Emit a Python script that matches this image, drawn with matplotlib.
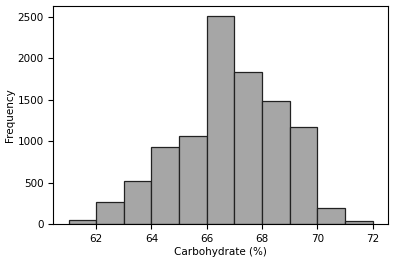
import numpy as np
import matplotlib
matplotlib.use('Agg')
import matplotlib.pyplot as plt

bin_edges = [61, 62, 63, 64, 65, 66, 67, 68, 69, 70, 71, 72]
counts = [48, 270, 520, 935, 1065, 2505, 1830, 1490, 1175, 194, 36]

fig = plt.figure(figsize=(3.95, 2.62), dpi=100)
ax = fig.add_axes([0.135, 0.145, 0.847, 0.832])
ax.hist(bin_edges[:-1], bins=bin_edges, weights=counts,
        color='#a6a6a6', edgecolor='#222222', linewidth=0.9)
ax.set_xticks([62, 64, 66, 68, 70, 72])
ax.set_yticks([0, 500, 1000, 1500, 2000, 2500])
ax.tick_params(labelsize=7.5)
ax.set_xlabel('Carbohydrate (%)', fontsize=7.5, labelpad=2)
ax.set_ylabel('Frequency', fontsize=7.5, labelpad=2)
fig.savefig('out.png', dpi=100)
